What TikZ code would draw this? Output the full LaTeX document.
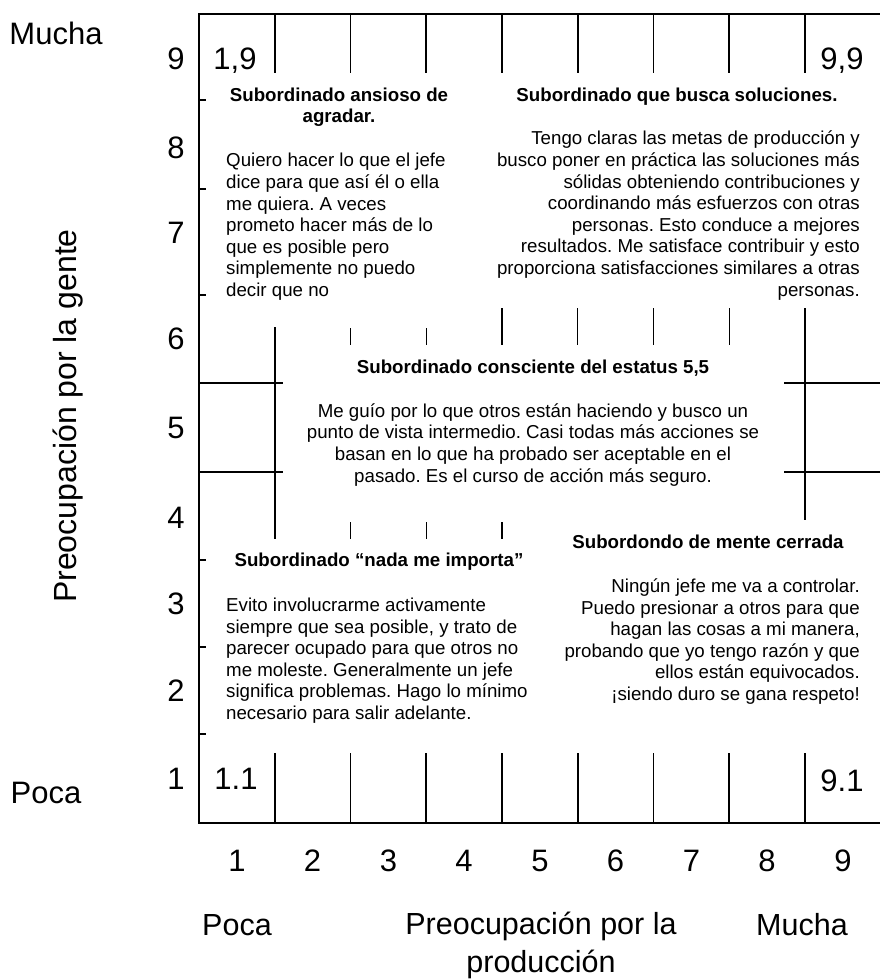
\documentclass[tikz,border=0pt]{standalone}
\usepackage{fontspec}
\setmainfont{Liberation Sans}
\frenchspacing

\begin{document}
\begin{tikzpicture}[x=1pt, y=-1pt,
    frameline/.style={line width=1.6pt, black},
    shorttick/.style={line width=1.4pt, black},
    bignum/.style={font=\fontsize{31}{37}\selectfont, inner sep=0pt, anchor=base},
    axislabel/.style={font=\fontsize{30.5}{38}\selectfont, inner sep=0pt, anchor=base, align=center},
    boxtitle/.style={font=\fontsize{18.7}{21.6}\selectfont\bfseries, inner sep=0pt, anchor=base, align=center},
    boxtext/.style={font=\fontsize{18.7}{21.6}\selectfont, inner sep=0pt}
]
    \useasboundingbox (0,0) rectangle (879,980);

    % outer frame
    \draw[frameline] (199,14) rectangle (881,823);

    % top row
    \draw[frameline] (274.75,14) -- (274.75,73);
    \draw[frameline] (350.5,14) -- (350.5,73);
    \draw[frameline] (426.25,14) -- (426.25,73);
    \draw[frameline] (502,14) -- (502,73);
    \draw[frameline] (577.75,14) -- (577.75,73);
    \draw[frameline] (653.5,14) -- (653.5,73);
    \draw[frameline] (729.25,14) -- (729.25,73);
    \draw[frameline] (805,14) -- (805,73);

    % bottom row
    \draw[frameline] (274.75,753) -- (274.75,823);
    \draw[frameline] (350.5,753) -- (350.5,823);
    \draw[frameline] (426.25,753) -- (426.25,823);
    \draw[frameline] (502,753) -- (502,823);
    \draw[frameline] (577.75,753) -- (577.75,823);
    \draw[frameline] (653.5,753) -- (653.5,823);
    \draw[frameline] (729.25,753) -- (729.25,823);
    \draw[frameline] (805,753) -- (805,823);

    % ticks on the left edge
    \draw[shorttick] (199,100) -- (206,100);
    \draw[shorttick] (199,189) -- (206,189);
    \draw[shorttick] (199,295) -- (206,295);
    \draw[shorttick] (199,560) -- (206,560);
    \draw[shorttick] (199,647) -- (206,647);
    \draw[shorttick] (199,734) -- (206,734);

    % middle band
    \draw[frameline] (274.75,327) -- (274.75,539);
    \draw[frameline] (199,383) -- (283,383);
    \draw[frameline] (199,472) -- (283,472);
    \draw[frameline] (805,308) -- (805,520);
    \draw[frameline] (784,383) -- (881,383);
    \draw[frameline] (784,472) -- (881,472);

    \draw[shorttick] (350.5,328) -- (350.5,345);
    \draw[shorttick] (426.25,328) -- (426.25,345);
    \draw[shorttick] (502,308) -- (502,345);
    \draw[shorttick] (577.75,308) -- (577.75,345);
    \draw[shorttick] (653.5,308) -- (653.5,345);
    \draw[shorttick] (729.25,308) -- (729.25,345);

    \draw[shorttick] (350.5,522) -- (350.5,539);
    \draw[shorttick] (426.25,522) -- (426.25,539);
    \draw[shorttick] (502,522) -- (502,539);

    % corner values
    \node[bignum] (c19) at (235,69) {1,9};
    \node[bignum] (c99) at (842,69) {9,9};
    \node[bignum] (c11) at (236,789) {1.1};
    \node[bignum] (c91) at (842,791) {9.1};

    % people axis
    \node[bignum] (ymucha) at (56,44) {Mucha};
    \node[bignum] (ypoca) at (46,803) {Poca};
    \node[font=\fontsize{32}{38}\selectfont, rotate=90, inner sep=0pt] (ytitle) at (68,416) {Preocupación por la gente};
    \node[bignum] (y9) at (176,69) {9};
    \node[bignum] (y8) at (176,158) {8};
    \node[bignum] (y7) at (176,243) {7};
    \node[bignum] (y6) at (176,349) {6};
    \node[bignum] (y5) at (176,438) {5};
    \node[bignum] (y4) at (176,528) {4};
    \node[bignum] (y3) at (176,614) {3};
    \node[bignum] (y2) at (176,701) {2};
    \node[bignum] (y1) at (176,789) {1};

    % production axis
    \node[bignum] (x1) at (236.9,871) {1};
    \node[bignum] (x2) at (312.6,871) {2};
    \node[bignum] (x3) at (388.4,871) {3};
    \node[bignum] (x4) at (464.1,871) {4};
    \node[bignum] (x5) at (539.9,871) {5};
    \node[bignum] (x6) at (615.6,871) {6};
    \node[bignum] (x7) at (691.4,871) {7};
    \node[bignum] (x8) at (767.1,871) {8};
    \node[bignum] (x9) at (842.9,871) {9};
    \node[axislabel] (xpoca) at (237,935) {Poca};
    \node[axislabel] (xtitle) at (541,972) {Preocupación por la\\producción};
    \node[axislabel] (xmucha) at (802,935) {Mucha};

    % the five styles (base = last line)
    \node[boxtitle] (anxious) at (339,122.6) {Subordinado ansioso de\\agradar.};
    \node[boxtext, anchor=base west, align=left] (anxioustext) at (226,296.5) {Quiero hacer lo que el jefe\\dice para que así él o ella\\me quiera. A veces\\prometo hacer más de lo\\que es posible pero\\simplemente no puedo\\decir que no};

    \node[boxtitle] (solver) at (677,101) {Subordinado que busca soluciones.};
    \node[boxtext, anchor=base east, align=right] (solvertext) at (860,296) {Tengo claras las metas de producción y\\busco poner en práctica las soluciones más\\sólidas obteniendo contribuciones y\\coordinando más esfuerzos con otras\\personas. Esto conduce a mejores\\resultados. Me satisface contribuir y esto\\proporciona satisfacciones similares a otras\\personas.};

    \node[boxtitle] (status) at (533,373) {Subordinado consciente del estatus 5,5};
    \node[boxtext, anchor=base, align=center] (statustext) at (533,482) {Me guío por lo que otros están haciendo y busco un\\punto de vista intermedio. Casi todas más acciones se\\basan en lo que ha probado ser aceptable en el\\pasado. Es el curso de acción más seguro.};

    \node[boxtitle] (careless) at (379,566) {Subordinado “nada me importa”};
    \node[boxtext, anchor=base west, align=left] (carelesstext) at (226,719.5) {Evito involucrarme activamente\\siempre que sea posible, y trato de\\parecer ocupado para que otros no\\me moleste. Generalmente un jefe\\significa problemas. Hago lo mínimo\\necesario para salir adelante.};

    \node[boxtitle] (closed) at (708,548) {Subordondo de mente cerrada};
    \node[boxtext, anchor=base east, align=right] (closedtext) at (860,700.5) {Ningún jefe me va a controlar.\\Puedo presionar a otros para que\\hagan las cosas a mi manera,\\probando que yo tengo razón y que\\ellos están equivocados.\\¡siendo duro se gana respeto!};
\end{tikzpicture}
\end{document}
